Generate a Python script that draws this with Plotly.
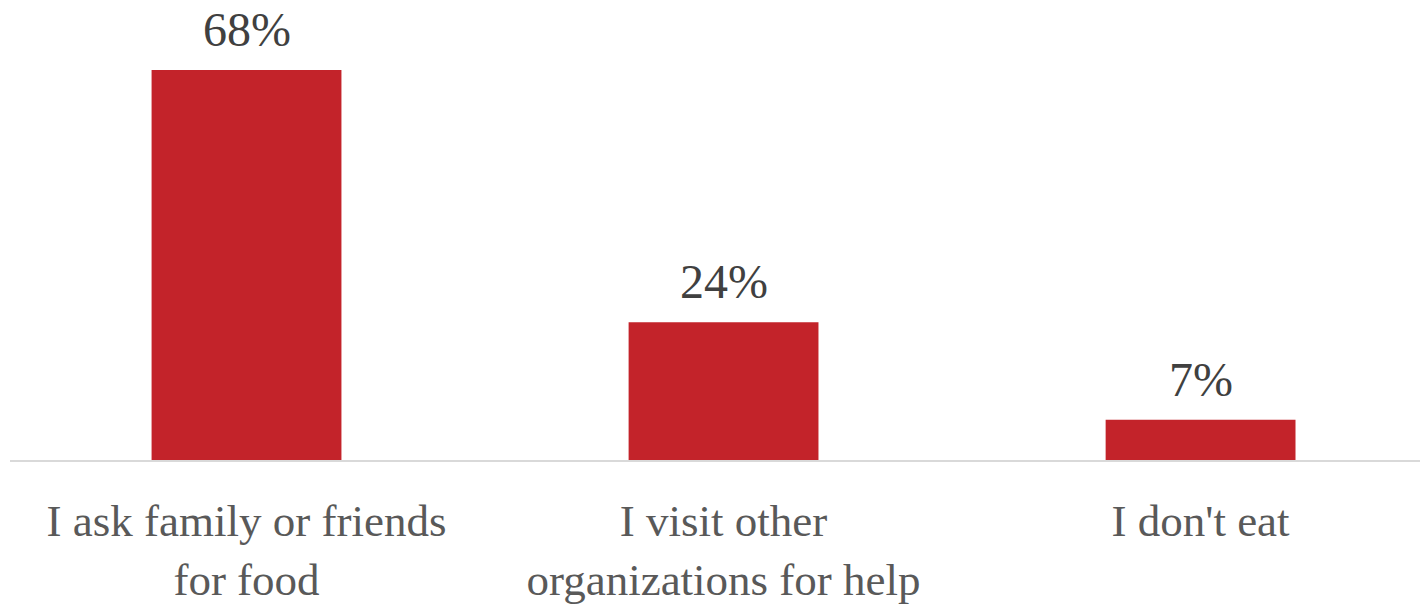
import plotly.graph_objects as go

categories = ["I ask family or friends<br>for food", "I visit other<br>organizations for help", "I don't eat"]
values = [68, 24, 7]
value_labels = ["68%", "24%", "7%"]

FONT = "Liberation Serif"
BAR_COLOR = "#C3232A"

fig = go.Figure()
fig.add_trace(go.Bar(
    x=[0, 1, 2], y=values, marker=dict(color=BAR_COLOR, line=dict(width=0)),
    width=0.398, hoverinfo="skip",
))
for i, (v, t) in enumerate(zip(values, value_labels)):
    fig.add_annotation(x=i, y=v, text=t, showarrow=False, yanchor="bottom",
                       yshift=12, font=dict(family=FONT, size=48, color="#404040"))

fig.update_layout(
    width=1420, height=608,
    margin=dict(l=10, r=0, t=0, b=148),
    paper_bgcolor="white", plot_bgcolor="white",
    showlegend=False,
    xaxis=dict(range=[-0.4958, 2.460], tickmode="array", tickvals=[0, 1, 2],
               ticktext=categories, showgrid=False, zeroline=False,
               showline=True, linecolor="#D9D9D9", linewidth=2,
               ticks="", tickfont=dict(family=FONT, size=45, color="#595959"),
               ticklabelstandoff=20, automargin=False),
    yaxis=dict(range=[0, 80.2], visible=False, showgrid=False, zeroline=False,
               automargin=False),
)
fig.write_html("out.html")
